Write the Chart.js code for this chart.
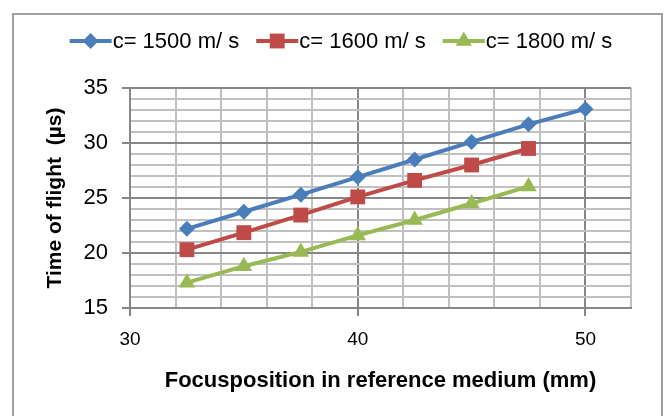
<!DOCTYPE html>
<html>
<head>
<meta charset="utf-8">
<script src="https://cdn.jsdelivr.net/npm/chart.js@4/dist/chart.umd.min.js"></script>
<style>
    html, body { margin: 0; padding: 0; background: #fff; }
    #wrap { width: 668px; height: 416px; }
</style>
</head>
<body>
<div id="wrap"><canvas id="tofChart" width="668" height="416"></canvas></div>
<script>
// Focus position (mm) and time of flight (µs)
const focusPos = [32.5, 35, 37.5, 40, 42.5, 45, 47.5, 50];
const tof1500 = [22.2, 23.75, 25.3, 26.9, 28.5, 30.1, 31.7, 33.1];
const tof1600 = [20.3, 21.85, 23.45, 25.1, 26.6, 28.0, 29.5];
const tof1800 = [17.3, 18.8, 20.1, 21.6, 23.0, 24.5, 26.05];
const seriesLabels = ['c= 1500 m/ s', 'c= 1600 m/ s', 'c= 1800 m/ s'];
const xTickLabels = [30, 40, 50];
const yTickLabels = [15, 20, 25, 30, 35];

const FONT = '"Liberation Sans", Arial, sans-serif';
const DARK_GRID = '#878787';
const LIGHT_GRID = '#c0c0c0';

function toPoints(ys) {
    return ys.map((y, i) => ({ x: focusPos[i], y: y }));
}

// Draws the small marker shapes for the legend
function drawMarker(ctx, style, x, y, r, color) {
    ctx.save();
    ctx.fillStyle = color;
    ctx.beginPath();
    if (style === 'rectRot') {
        ctx.moveTo(x, y - r);
        ctx.lineTo(x + r, y);
        ctx.lineTo(x, y + r);
        ctx.lineTo(x - r, y);
    } else if (style === 'rect') {
        const s = r * Math.SQRT1_2;
        ctx.rect(x - s, y - s, 2 * s, 2 * s);
    } else {
        ctx.moveTo(x, y - r);
        ctx.lineTo(x + r * 0.866, y + r / 2);
        ctx.lineTo(x - r * 0.866, y + r / 2);
    }
    ctx.closePath();
    ctx.fill();
    ctx.restore();
}

const frameAndLegend = {
    id: 'frameAndLegend',
    beforeDraw(chart) {
        const ctx = chart.ctx;
        ctx.save();
        ctx.fillStyle = '#fff';
        ctx.fillRect(0, 0, chart.width, chart.height);
        ctx.strokeStyle = '#a0a0a0';
        ctx.lineWidth = 2;
        ctx.strokeRect(13, 14, 649, 420);
        ctx.restore();
    },
    afterDraw(chart) {
        const ctx = chart.ctx;
        const lineLen = 42, gap = 17, y = 41;
        ctx.save();
        ctx.font = '22px ' + FONT;
        ctx.textBaseline = 'middle';
        ctx.fillStyle = '#000';
        const sets = chart.data.datasets;
        const widths = sets.map(d => ctx.measureText(d.label).width);
        let total = widths.reduce((a, b) => a + b, 0) + sets.length * (lineLen + 1) + gap * (sets.length - 1);
        let x = 341 - total / 2;
        sets.forEach((d, i) => {
            ctx.strokeStyle = d.borderColor;
            ctx.lineWidth = 4;
            ctx.beginPath();
            ctx.moveTo(x, y);
            ctx.lineTo(x + lineLen, y);
            ctx.stroke();
            drawMarker(ctx, d.pointStyle, x + lineLen / 2, y, d.pointRadius, d.borderColor);
            ctx.fillText(d.label, x + lineLen + 1, y + 1);
            x += lineLen + 1 + widths[i] + gap;
        });
        ctx.restore();
    }
};

const ctx = document.getElementById('tofChart').getContext('2d');
new Chart(ctx, {
    type: 'line',
    data: {
        datasets: [
            {
                label: seriesLabels[0],
                data: toPoints(tof1500),
                borderColor: '#4a7ebb',
                backgroundColor: '#4a7ebb',
                borderWidth: 4,
                pointStyle: 'rectRot',
                pointRadius: 8,
                pointBorderWidth: 0,
                tension: 0
            },
            {
                label: seriesLabels[1],
                data: toPoints(tof1600),
                borderColor: '#be4b48',
                backgroundColor: '#be4b48',
                borderWidth: 4,
                pointStyle: 'rect',
                pointRadius: 10.5,
                pointBorderWidth: 0,
                tension: 0
            },
            {
                label: seriesLabels[2],
                data: toPoints(tof1800),
                borderColor: '#98b954',
                backgroundColor: '#98b954',
                borderWidth: 4,
                pointStyle: 'triangle',
                pointRadius: 9.5,
                pointBorderWidth: 0,
                tension: 0
            }
        ]
    },
    options: {
        responsive: false,
        animation: false,
        devicePixelRatio: 1,
        layout: { padding: { top: 88, right: 37, bottom: 0, left: 0 } },
        plugins: {
            legend: { display: false },
            tooltip: { enabled: false }
        },
        scales: {
            x: {
                type: 'linear',
                min: 30,
                max: 52,
                afterFit: (scale) => { scale.height = 108; },
                border: { color: DARK_GRID, width: 2 },
                grid: {
                    lineWidth: 2,
                    tickLength: 8,
                    color: (c) => (c.tick && c.tick.value % 10 === 0 ? DARK_GRID : LIGHT_GRID),
                    tickColor: (c) => (c.tick && c.tick.value % 10 === 0 ? DARK_GRID : 'rgba(0,0,0,0)')
                },
                ticks: {
                    stepSize: 2,
                    autoSkip: false,
                    maxRotation: 0,
                    padding: 12,
                    color: '#000',
                    font: { family: FONT, size: 19 },
                    callback: (v) => (xTickLabels.includes(v) ? String(v) : '')
                },
                title: {
                    display: true,
                    text: 'Focusposition in reference medium (mm)',
                    color: '#000',
                    font: { family: FONT, size: 22, weight: 'bold' },
                    padding: { top: 0, bottom: 22 }
                }
            },
            y: {
                min: 15,
                max: 35,
                afterFit: (scale) => { scale.width = 130; },
                border: { color: DARK_GRID, width: 2 },
                grid: {
                    lineWidth: 2,
                    tickLength: 8,
                    color: (c) => (c.tick && c.tick.value % 5 === 0 ? DARK_GRID : LIGHT_GRID),
                    tickColor: (c) => (c.tick && c.tick.value % 5 === 0 ? DARK_GRID : 'rgba(0,0,0,0)')
                },
                ticks: {
                    stepSize: 1,
                    autoSkip: false,
                    padding: 14,
                    color: '#000',
                    font: { family: FONT, size: 22 },
                    callback: (v) => (yTickLabels.includes(v) ? String(v) : '')
                },
                title: {
                    display: true,
                    text: 'Time of flight  (µs)',
                    color: '#000',
                    font: { family: FONT, size: 21, weight: 'bold' },
                    padding: { top: 43, bottom: 0 }
                }
            }
        }
    },
    plugins: [frameAndLegend]
});
</script>
</body>
</html>
